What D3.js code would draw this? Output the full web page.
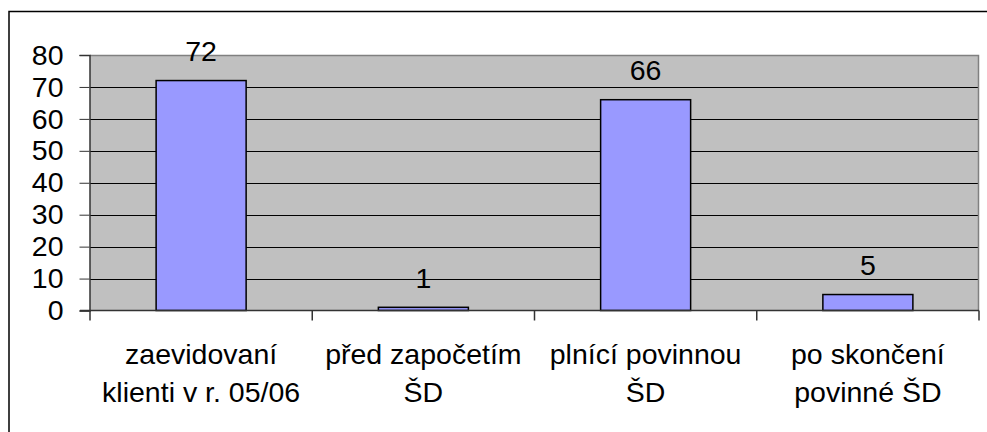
<!DOCTYPE html>
<html>
<head>
<meta charset="utf-8">
<script src="https://cdn.jsdelivr.net/npm/d3@7"></script>
<style>
  html, body { margin: 0; padding: 0; background: #fff; }
  svg { display: block; }
  text { font-family: "Liberation Sans", Arial, sans-serif; fill: #000; }
</style>
</head>
<body>
<svg id="chart" width="987" height="432"></svg>
<script>
// Clients by category
const categories = [
  ["zaevidovaní", "klienti v r. 05/06"],
  ["před započetím", "ŠD"],
  ["plnící povinnou", "ŠD"],
  ["po skončení", "povinné ŠD"]
];
const values = [72, 1, 66, 5];
const yTicks = [0, 10, 20, 30, 40, 50, 60, 70, 80];

const FONT = 28.5;
const svg = d3.select("#chart");
const W = 987, H = 432;

// outer frame
svg.append("rect")
  .attr("x", 9).attr("y", 11.5)
  .attr("width", W + 20).attr("height", H + 20)
  .attr("fill", "#fff").attr("stroke", "#000").attr("stroke-width", 1.5);

const plot = { left: 90, right: 979, top: 55, bottom: 310.5 };

const x = d3.scaleBand()
  .domain(d3.range(categories.length))
  .range([plot.left, plot.right])
  .paddingInner(0.595).paddingOuter(0.2975);

const xCat = d3.scaleBand()
  .domain(d3.range(categories.length))
  .range([plot.left, plot.right]);

const y = d3.scaleLinear().domain([0, 80]).range([plot.bottom, plot.top]);

// plot background
svg.append("rect")
  .attr("x", plot.left).attr("y", plot.top)
  .attr("width", plot.right - plot.left).attr("height", plot.bottom - plot.top)
  .attr("fill", "#c0c0c0");

// gridlines
svg.append("g")
  .selectAll("line")
  .data(yTicks.filter(d => d > 0 && d < 80))
  .join("line")
  .attr("x1", plot.left).attr("x2", plot.right)
  .attr("y1", d => Math.round(y(d)) + 0.5).attr("y2", d => Math.round(y(d)) + 0.5)
  .attr("stroke", "#000").attr("stroke-width", 1);

// plot border top / right
svg.append("path")
  .attr("d", `M${plot.left},${plot.top + 0.5}H${plot.right - 0.5}V${plot.bottom}`)
  .attr("fill", "none").attr("stroke", "#808080").attr("stroke-width", 1.5);

// bars
svg.append("g")
  .selectAll("rect")
  .data(values)
  .join("rect")
  .attr("x", (d, i) => x(i))
  .attr("y", d => y(d))
  .attr("width", x.bandwidth())
  .attr("height", d => y(0) - y(d))
  .attr("fill", "#9999ff")
  .attr("stroke", "#000").attr("stroke-width", 1.5);

// value labels
svg.append("g")
  .selectAll("text")
  .data(values)
  .join("text")
  .attr("x", (d, i) => x(i) + x.bandwidth() / 2)
  .attr("y", d => y(d) - 19.5)
  .attr("text-anchor", "middle")
  .attr("font-size", FONT)
  .text(d => d);

// y axis
const yAxis = d3.axisLeft(y).tickValues(yTicks).tickSize(10).tickPadding(16);
const gy = svg.append("g")
  .attr("transform", `translate(${plot.left - 0.5},0)`)
  .call(yAxis);
gy.select(".domain").attr("stroke", "#333").attr("stroke-width", 1.5);
gy.selectAll(".tick line").attr("stroke", "#333");
gy.selectAll(".tick text")
  .attr("font-size", FONT)
  .attr("font-family", "Liberation Sans, Arial, sans-serif")
  .attr("fill", "#000");

// x axis line and category separators
svg.append("line")
  .attr("x1", plot.left - 10).attr("x2", plot.right)
  .attr("y1", plot.bottom).attr("y2", plot.bottom)
  .attr("stroke", "#333").attr("stroke-width", 1.5);

const seps = d3.range(categories.length + 1).map(i =>
  i < categories.length ? xCat(i) : xCat(i - 1) + xCat.bandwidth());
svg.append("g")
  .selectAll("line")
  .data(seps)
  .join("line")
  .attr("x1", d => d).attr("x2", d => d)
  .attr("y1", plot.bottom).attr("y2", plot.bottom + 10)
  .attr("stroke", "#333").attr("stroke-width", 1.5);

// category labels
const cl = svg.append("g")
  .selectAll("text")
  .data(categories)
  .join("text")
  .attr("text-anchor", "middle")
  .attr("font-size", FONT);
cl.selectAll("tspan")
  .data((d, i) => d.map(line => ({ line, i })))
  .join("tspan")
  .attr("x", d => xCat(d.i) + xCat.bandwidth() / 2)
  .attr("y", (d, j) => 364 + j * 38)
  .text(d => d.line);
</script>
</body>
</html>
